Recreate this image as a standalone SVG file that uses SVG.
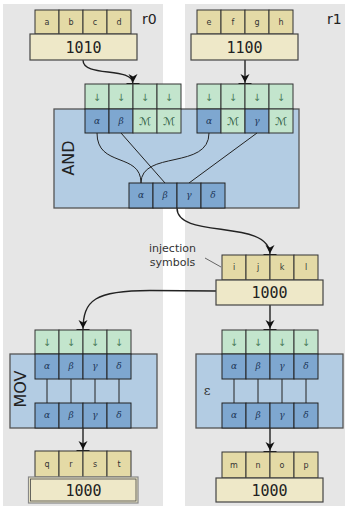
<svg xmlns="http://www.w3.org/2000/svg" width="348" height="509" viewBox="0 0 348 509">
<style>
.panel{fill:#e6e6e6}
.yc{fill:#e4daa6;stroke:#333;stroke-width:1}
.yb{fill:#eee8c8;stroke:#444;stroke-width:1.2}
.gc{fill:#c3e5cd;stroke:#333;stroke-width:1}
.bc{fill:#7ea7d0;stroke:#222;stroke-width:1}
.box{fill:#b3cce3;stroke:#555;stroke-width:1.3}
.lt{font-family:"DejaVu Sans",sans-serif;font-size:8px;fill:#333;text-anchor:middle}
.num{font-family:"DejaVu Sans Mono",monospace;font-size:15px;fill:#222;text-anchor:middle}
.ar{font-family:"DejaVu Sans",sans-serif;font-size:10px;fill:#4a7a5a;text-anchor:middle}
.gr{font-family:"DejaVu Serif",serif;font-style:italic;font-size:9px;fill:#1d3658;text-anchor:middle}
.mc{font-family:"DejaVu Sans","DejaVu Serif",serif;font-size:11px;fill:#2d5a3d;text-anchor:middle}
.lbl{font-family:"DejaVu Sans",sans-serif;font-size:16px;fill:#222;text-anchor:middle}
.rl{font-family:"DejaVu Sans",sans-serif;font-size:14px;fill:#222}
.note{font-family:"DejaVu Sans",sans-serif;font-size:11px;fill:#333;text-anchor:middle}
.wire{fill:none;stroke:#222;stroke-width:1}
.conn{fill:none;stroke:#222;stroke-width:1.4}
</style>
<defs>
<marker id="ah" markerUnits="userSpaceOnUse" viewBox="-11 -7 13 14" refX="0" refY="0" markerWidth="13" markerHeight="14" orient="auto">
<path d="M-1.5,0 L-10,-4.5 L-7.5,0 L-10,4.5 Z" fill="#111"/>
<path d="M0,-6.5 L0,6.5" stroke="#111" stroke-width="2"/>
</marker>
</defs>
<rect class="panel" x="3" y="4" width="160" height="502"/>
<rect class="panel" x="185" y="4" width="160" height="502"/>
<text class="rl" x="142" y="24">r0</text>
<text class="rl" x="327" y="24">r1</text>

<g id="connectors">
<path class="conn" d="M83,60 C83,78 133,66 133,84" marker-end="url(#ah)"/>
<path class="conn" d="M245,60 L245,84" marker-end="url(#ah)"/>
<path class="conn" d="M177,208 C177,240 270,218 270,255" marker-end="url(#ah)"/>
<path class="conn" d="M216,291 L150,290.5 C95,290.5 83,300 83,330" marker-end="url(#ah)"/>
<path class="conn" d="M270,305 L270,330" marker-end="url(#ah)"/>
<path class="conn" d="M83,428 L83,451" marker-end="url(#ah)"/>
<path class="conn" d="M270,428 L270,452" marker-end="url(#ah)"/>
<path d="M205,258 L221,267" stroke="#444" stroke-width="0.8" fill="none"/>
</g>

<g id="r0-in">
<rect class="yc" x="35" y="10" width="24" height="24"/><text class="lt" x="47" y="25">a</text>
<rect class="yc" x="59" y="10" width="24" height="24"/><text class="lt" x="71" y="25">b</text>
<rect class="yc" x="83" y="10" width="24" height="24"/><text class="lt" x="95" y="25">c</text>
<rect class="yc" x="107" y="10" width="24" height="24"/><text class="lt" x="119" y="25">d</text>
<rect class="yb" x="30" y="34" width="107" height="26"/><text class="num" x="83.5" y="53">1010</text>
</g>

<g id="r1-in">
<rect class="yc" x="197" y="10" width="24" height="24"/><text class="lt" x="209" y="25">e</text>
<rect class="yc" x="221" y="10" width="24" height="24"/><text class="lt" x="233" y="25">f</text>
<rect class="yc" x="245" y="10" width="24" height="24"/><text class="lt" x="257" y="25">g</text>
<rect class="yc" x="269" y="10" width="24" height="24"/><text class="lt" x="281" y="25">h</text>
<rect class="yb" x="191" y="34" width="107" height="26"/><text class="num" x="244.5" y="53">1100</text>
</g>

<g id="and">
<rect class="box" x="54" y="109" width="245" height="99"/>
<text class="lbl" transform="translate(74,158) rotate(-90)" font-size="17">AND</text>
<rect class="gc" x="85" y="84" width="24" height="25"/><text class="ar" x="97" y="101">↓</text>
<rect class="gc" x="109" y="84" width="24" height="25"/><text class="ar" x="121" y="101">↓</text>
<rect class="gc" x="133" y="84" width="24" height="25"/><text class="ar" x="145" y="101">↓</text>
<rect class="gc" x="157" y="84" width="24" height="25"/><text class="ar" x="169" y="101">↓</text>
<rect class="bc" x="85" y="109" width="24" height="24"/><text class="gr" x="97" y="124">α</text>
<rect class="bc" x="109" y="109" width="24" height="24"/><text class="gr" x="121" y="124">β</text>
<rect class="gc" x="133" y="109" width="24" height="24"/><text class="mc" x="145" y="125">ℳ</text>
<rect class="gc" x="157" y="109" width="24" height="24"/><text class="mc" x="169" y="125">ℳ</text>
<rect class="gc" x="197" y="84" width="24" height="25"/><text class="ar" x="209" y="101">↓</text>
<rect class="gc" x="221" y="84" width="24" height="25"/><text class="ar" x="233" y="101">↓</text>
<rect class="gc" x="245" y="84" width="24" height="25"/><text class="ar" x="257" y="101">↓</text>
<rect class="gc" x="269" y="84" width="24" height="25"/><text class="ar" x="281" y="101">↓</text>
<rect class="bc" x="197" y="109" width="24" height="24"/><text class="gr" x="209" y="124">α</text>
<rect class="gc" x="221" y="109" width="24" height="24"/><text class="mc" x="233" y="125">ℳ</text>
<rect class="bc" x="245" y="109" width="24" height="24"/><text class="gr" x="257" y="124">γ</text>
<rect class="gc" x="269" y="109" width="24" height="24"/><text class="mc" x="281" y="125">ℳ</text>
<path class="wire" d="M97,133 C97,168 141,152 141,183"/>
<path class="wire" d="M121,133 L165,183"/>
<path class="wire" d="M209,133 C209,170 141,150 141,183"/>
<path class="wire" d="M257,133 L189,183"/>
<rect class="bc" x="129" y="183" width="24" height="25"/><text class="gr" x="141" y="198">α</text>
<rect class="bc" x="153" y="183" width="24" height="25"/><text class="gr" x="165" y="198">β</text>
<rect class="bc" x="177" y="183" width="24" height="25"/><text class="gr" x="189" y="198">γ</text>
<rect class="bc" x="201" y="183" width="24" height="25"/><text class="gr" x="213" y="198">δ</text>
</g>

<g id="injection-label">
<text class="note" x="172.5" y="252">injection</text>
<text class="note" x="172.5" y="266">symbols</text>
</g>

<g id="r1-mid">
<rect class="yc" x="222" y="255" width="24" height="25"/><text class="lt" x="234" y="270">i</text>
<rect class="yc" x="246" y="255" width="24" height="25"/><text class="lt" x="258" y="270">j</text>
<rect class="yc" x="270" y="255" width="24" height="25"/><text class="lt" x="282" y="270">k</text>
<rect class="yc" x="294" y="255" width="24" height="25"/><text class="lt" x="306" y="270">l</text>
<rect class="yb" x="216" y="280" width="107" height="25"/><text class="num" x="269.5" y="298">1000</text>
</g>

<g id="mov">
<rect class="box" x="10" y="354" width="147" height="74"/>
<text class="lbl" transform="translate(26,389) rotate(-90)">MOV</text>
<rect class="gc" x="35" y="330" width="24" height="24"/><text class="ar" x="47" y="346">↓</text>
<rect class="gc" x="59" y="330" width="24" height="24"/><text class="ar" x="71" y="346">↓</text>
<rect class="gc" x="83" y="330" width="24" height="24"/><text class="ar" x="95" y="346">↓</text>
<rect class="gc" x="107" y="330" width="24" height="24"/><text class="ar" x="119" y="346">↓</text>
<path class="wire" d="M47,379 V403 M71,379 V403 M95,379 V403 M119,379 V403"/>
<rect class="bc" x="35" y="354" width="24" height="25"/><text class="gr" x="47" y="369">α</text>
<rect class="bc" x="59" y="354" width="24" height="25"/><text class="gr" x="71" y="369">β</text>
<rect class="bc" x="83" y="354" width="24" height="25"/><text class="gr" x="95" y="369">γ</text>
<rect class="bc" x="107" y="354" width="24" height="25"/><text class="gr" x="119" y="369">δ</text>
<rect class="bc" x="35" y="403" width="24" height="25"/><text class="gr" x="47" y="418">α</text>
<rect class="bc" x="59" y="403" width="24" height="25"/><text class="gr" x="71" y="418">β</text>
<rect class="bc" x="83" y="403" width="24" height="25"/><text class="gr" x="95" y="418">γ</text>
<rect class="bc" x="107" y="403" width="24" height="25"/><text class="gr" x="119" y="418">δ</text>
</g>

<g id="eps">
<rect class="box" x="196" y="354" width="147" height="74"/>
<text x="207" y="395" font-family="DejaVu Serif,serif" font-size="13" fill="#333" text-anchor="middle">ε</text>
<rect class="gc" x="222" y="330" width="24" height="24"/><text class="ar" x="234" y="346">↓</text>
<rect class="gc" x="246" y="330" width="24" height="24"/><text class="ar" x="258" y="346">↓</text>
<rect class="gc" x="270" y="330" width="24" height="24"/><text class="ar" x="282" y="346">↓</text>
<rect class="gc" x="294" y="330" width="24" height="24"/><text class="ar" x="306" y="346">↓</text>
<path class="wire" d="M234,379 V403 M258,379 V403 M282,379 V403 M306,379 V403"/>
<rect class="bc" x="222" y="354" width="24" height="25"/><text class="gr" x="234" y="369">α</text>
<rect class="bc" x="246" y="354" width="24" height="25"/><text class="gr" x="258" y="369">β</text>
<rect class="bc" x="270" y="354" width="24" height="25"/><text class="gr" x="282" y="369">γ</text>
<rect class="bc" x="294" y="354" width="24" height="25"/><text class="gr" x="306" y="369">δ</text>
<rect class="bc" x="222" y="403" width="24" height="25"/><text class="gr" x="234" y="418">α</text>
<rect class="bc" x="246" y="403" width="24" height="25"/><text class="gr" x="258" y="418">β</text>
<rect class="bc" x="270" y="403" width="24" height="25"/><text class="gr" x="282" y="418">γ</text>
<rect class="bc" x="294" y="403" width="24" height="25"/><text class="gr" x="306" y="418">δ</text>
</g>

<g id="r0-out">
<rect class="yc" x="35" y="451" width="24" height="26"/><text class="lt" x="47" y="467">q</text>
<rect class="yc" x="59" y="451" width="24" height="26"/><text class="lt" x="71" y="467">r</text>
<rect class="yc" x="83" y="451" width="24" height="26"/><text class="lt" x="95" y="467">s</text>
<rect class="yc" x="107" y="451" width="24" height="26"/><text class="lt" x="119" y="467">t</text>
<rect x="28.5" y="477" width="109.5" height="26" fill="#eee8c8" stroke="#888" stroke-width="1.2"/>
<rect x="30.5" y="479" width="105.5" height="22" fill="none" stroke="#444" stroke-width="0.8"/>
<text class="num" x="83.5" y="496">1000</text>
</g>

<g id="r1-out">
<rect class="yc" x="222" y="452" width="24" height="26"/><text class="lt" x="234" y="468">m</text>
<rect class="yc" x="246" y="452" width="24" height="26"/><text class="lt" x="258" y="468">n</text>
<rect class="yc" x="270" y="452" width="24" height="26"/><text class="lt" x="282" y="468">o</text>
<rect class="yc" x="294" y="452" width="24" height="26"/><text class="lt" x="306" y="468">p</text>
<rect class="yb" x="216" y="478" width="107" height="24"/><text class="num" x="269.5" y="496">1000</text>
</g>
</svg>
